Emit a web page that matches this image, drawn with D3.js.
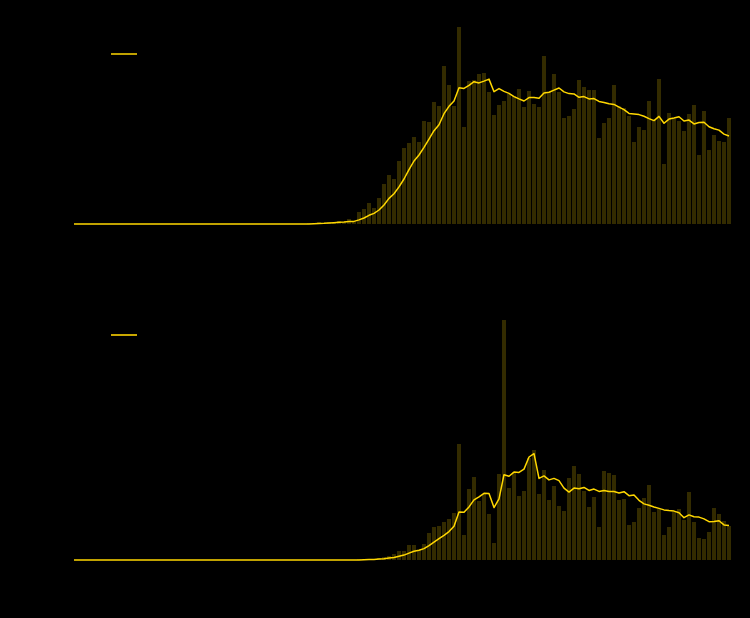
<!DOCTYPE html>
<html><head><meta charset="utf-8">
<script src="https://cdn.jsdelivr.net/npm/d3@7"></script>
<style>html,body{margin:0;padding:0;background:#000;}svg{display:block;}</style>
</head><body>
<script>
// Daily values, panel 1 (index = day)
const topDaily = [
  0,0,0,0,0,0,0,0,0,0,
  0,0,0,0,0,0,0,0,0,0,
  0,0,0,0,0,0,0,0,0,0,
  0,0,0,0,0,0,0,0,0,0,
  0,0,0,0,0,0,0,1,1,2,
  1,2,2,3,2,5,3,12,15,21,
  16,26,40,49,45,63,76,81,87,82,
  103,102,122,118,158,139,118,197,97,143,
  144,150,151,132,109,119,123,130,128,135,
  117,133,120,117,168,132,150,132,106,108,
  115,144,137,134,134,86,101,106,139,118,
  116,108,82,97,94,123,104,145,60,111,
  105,103,93,110,119,69,113,74,89,83,
  82,106];
const topAvg = [
  0,0,0,0,0,0,0,0,0,0,
  0,0,0,0,0,0,0,0,0,0,
  0,0,0,0,0,0,0,0,0,0,
  0,0,0,0,0,0,0,0,0,0,
  0,0,0,0,0,0,0,0.1,0.3,0.6,
  0.7,1.0,1.3,1.7,1.9,2.4,2.6,4.1,6.0,8.7,
  10.6,14.0,19.0,25.6,30.3,37.1,45.0,54.3,63.0,69.0,
  76.7,84.9,93.3,99.3,110.3,117.7,122.9,136.3,135.6,138.6,
  142.3,141.1,142.9,144.9,132.3,135.4,132.6,130.6,127.4,125.1,
  123.0,126.4,126.6,125.7,131.1,131.7,133.9,136.0,132.1,130.4,
  130.1,126.7,127.4,125.1,125.4,122.6,121.6,120.3,119.6,116.9,
  114.3,110.6,110.0,109.4,107.7,105.4,103.4,107.6,100.7,104.9,
  106.0,107.3,103.0,103.9,100.1,101.4,101.7,97.3,95.3,93.9,
  89.9,88.0];
// Daily values, panel 2
const bottomDaily = [
  0,0,0,0,0,0,0,0,0,0,
  0,0,0,0,0,0,0,0,0,0,
  0,0,0,0,0,0,0,0,0,0,
  0,0,0,0,0,0,0,0,0,0,
  0,0,0,0,0,0,0,0,0,0,
  0,0,0,0,0,0,0,1,1,1,
  1,2,3,4,6,9,9,15,15,10,
  16,27,33,34,38,41,47,116,25,71,
  83,59,66,46,17,86,240,72,88,64,
  69,102,110,66,90,60,74,54,49,82,
  94,86,69,53,63,33,89,87,85,60,
  61,35,38,52,62,75,48,51,25,33,
  48,51,40,68,38,22,21,28,52,46,
  39,34];
const bottomAvg = [
  0,0,0,0,0,0,0,0,0,0,
  0,0,0,0,0,0,0,0,0,0,
  0,0,0,0,0,0,0,0,0,0,
  0,0,0,0,0,0,0,0,0,0,
  0,0,0,0,0,0,0,0,0,0,
  0,0,0,0,0,0,0,0.1,0.3,0.4,
  0.6,0.9,1.3,1.9,2.6,3.7,4.9,6.9,8.7,9.7,
  11.4,14.4,17.9,21.4,24.7,28.4,33.7,48.0,47.7,53.1,
  60.1,63.1,66.7,66.6,52.4,61.1,85.3,83.7,87.9,87.6,
  90.9,103.0,106.4,81.6,84.1,80.1,81.6,79.4,71.9,67.9,
  71.9,71.3,72.6,69.6,70.9,68.6,69.6,68.6,68.4,67.1,
  68.3,64.3,65.0,59.7,56.1,54.7,53.0,51.6,50.1,49.4,
  48.9,47.3,42.3,45.1,43.3,42.9,41.1,38.3,38.4,39.3,
  35.1,34.6];
const days = d3.range(topDaily.length);
const legendLabels = ["7-day average", "7-day average"];

const W = 750, H = 618;
const svg = d3.select("body").append("svg").attr("width", W).attr("height", H)
  .style("background", "#000");
svg.append("rect").attr("width", W).attr("height", H).attr("fill", "#000");

const x = d3.scaleBand().domain(days).range([71.5, 731.5])
  .paddingInner(0.2).paddingOuter(0.1);

const panels = [
  {daily: topDaily, avg: topAvg, y: d3.scaleLinear().domain([0, 200]).range([224, 24]),
   legendY: 54, legendColor: "#FFD700", legendW: 1.5, label: legendLabels[0]},
  {daily: bottomDaily, avg: bottomAvg, y: d3.scaleLinear().domain([0, 240]).range([560, 320]),
   legendY: 335, legendColor: "#c9a700", legendW: 2, label: legendLabels[1]}
];

panels.forEach(p => {
  const g = svg.append("g");
  // invisible (black) axes, as in the reference
  g.append("g").attr("transform", `translate(0,${p.y.range()[0]})`)
    .call(d3.axisBottom(x).tickValues([]).tickSize(0))
    .call(s => s.selectAll("path,line").attr("stroke", "#000"))
    .call(s => s.selectAll("text").attr("fill", "#000"));
  g.append("g").attr("transform", `translate(71.5,0)`)
    .call(d3.axisLeft(p.y).ticks(4))
    .call(s => s.selectAll("path,line").attr("stroke", "#000"))
    .call(s => s.selectAll("text").attr("fill", "#000"));

  g.append("g").selectAll("rect").data(p.daily).join("rect")
    .attr("x", (d, i) => x(i))
    .attr("width", x.bandwidth())
    .attr("y", d => p.y(d))
    .attr("height", d => p.y(0) - p.y(d))
    .attr("fill", "rgb(51,43,0)");

  const line = d3.line()
    .x((d, i) => x(i) + x.bandwidth() / 2)
    .y(d => p.y(d));
  g.append("path").datum(p.avg)
    .attr("d", line)
    .attr("fill", "none")
    .attr("stroke", "#FFD700")
    .attr("stroke-width", 1.5)
    .attr("stroke-linejoin", "round");

  // legend
  g.append("line").attr("x1", 111).attr("x2", 137)
    .attr("y1", p.legendY).attr("y2", p.legendY)
    .attr("stroke", p.legendColor).attr("stroke-width", p.legendW);
  g.append("text").attr("x", 145).attr("y", p.legendY + 4)
    .attr("fill", "#000").attr("font-family", "DejaVu Sans").attr("font-size", 11)
    .text(p.label);
});
</script>
</body></html>
